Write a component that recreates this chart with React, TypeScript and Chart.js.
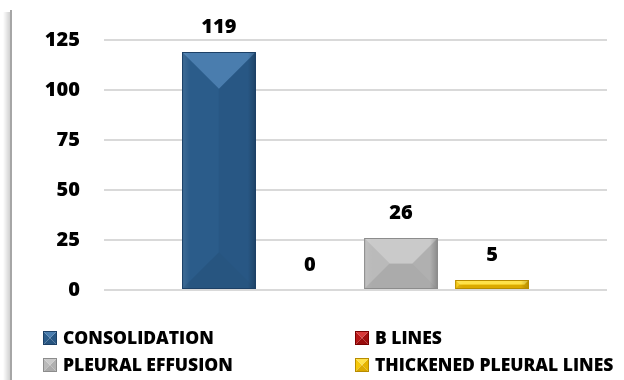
import React, { useEffect, useRef } from "react";
import { Chart, registerables } from "chart.js";

Chart.register(...registerables);

const categories = [""];
const seriesNames = ["CONSOLIDATION", "B LINES", "PLEURAL EFFUSION", "THICKENED PLEURAL LINES"];
const seriesValues = [119, 0, 26, 5];
const yMin = 0;
const yMax = 125;
const yStep = 25;

type Shade = { base: string; top: string; left: string; right: string; bottom: string; border: string };
const palette: Shade[] = [
  { base: "#2a5a88", top: "#4a7dae", left: "#2b5c8a", right: "#285784", bottom: "#275580", border: "#1c4066" },
  { base: "#b41212", top: "#d83a3a", left: "#b81616", right: "#a00e0e", bottom: "#9a0c0c", border: "#7a0000" },
  { base: "#b6b6b6", top: "#cacaca", left: "#bababa", right: "#b0b0b0", bottom: "#ababab", border: "#8c8c8c" },
  { base: "#f2c200", top: "#ffe24a", left: "#f6c90c", right: "#e6b400", bottom: "#dcaa00", border: "#b88c00" },
];

const FONT = "'Open Sans', 'DejaVu Sans', sans-serif";
const WEIGHT = "800";

function poly(ctx: CanvasRenderingContext2D, pts: number[][], fill: string) {
  ctx.beginPath();
  ctx.moveTo(pts[0][0], pts[0][1]);
  for (let k = 1; k < pts.length; k++) ctx.lineTo(pts[k][0], pts[k][1]);
  ctx.closePath();
  ctx.fillStyle = fill;
  ctx.fill();
}

function drawBevel(ctx: CanvasRenderingContext2D, L: number, T: number, R: number, B: number, c: Shade, edge: boolean) {
  const w = R - L;
  const h = B - T;
  if (h < 0.5 || w < 0.5) return;
  const x = (L + R) / 2;
  let top: number[][], bottom: number[][], left: number[][], right: number[][];
  if (h >= w) {
    const d = w / 2;
    top = [[L, T], [R, T], [x, T + d]];
    bottom = [[L, B], [R, B], [x, B - d]];
    left = [[L, T], [x, T + d], [x, B - d], [L, B]];
    right = [[R, T], [x, T + d], [x, B - d], [R, B]];
  } else {
    const d = h / 2;
    const cy = (T + B) / 2;
    top = [[L, T], [R, T], [R - d, cy], [L + d, cy]];
    bottom = [[L, B], [R, B], [R - d, cy], [L + d, cy]];
    left = [[L, T], [L + d, cy], [L, B]];
    right = [[R, T], [R - d, cy], [R, B]];
  }
  ctx.save();
  poly(ctx, left, c.left);
  poly(ctx, right, c.right);
  poly(ctx, bottom, c.bottom);
  poly(ctx, top, c.top);
  if (edge && w > 20) {
    const g = ctx.createLinearGradient(R - 8, 0, R, 0);
    g.addColorStop(0, "rgba(0,0,0,0)");
    g.addColorStop(1, "rgba(0,0,0,0.22)");
    ctx.fillStyle = g;
    ctx.fillRect(R - 8, T, 8, h);
    const g2 = ctx.createLinearGradient(L, 0, L + 8, 0);
    g2.addColorStop(0, "rgba(255,255,255,0.10)");
    g2.addColorStop(1, "rgba(255,255,255,0)");
    ctx.fillStyle = g2;
    ctx.fillRect(L, T, 8, h);
  }
  ctx.strokeStyle = c.border;
  ctx.lineWidth = 1;
  ctx.strokeRect(L + 0.5, T + 0.5, w - 1, h - 1);
  ctx.restore();
}

const framePlugin = {
  id: "frame",
  beforeDraw(chart: any) {
    const ctx = chart.ctx as CanvasRenderingContext2D;
    ctx.save();
    const g = ctx.createLinearGradient(3, 0, 10, 0);
    g.addColorStop(0, "rgba(0,0,0,0)");
    g.addColorStop(1, "rgba(0,0,0,0.18)");
    ctx.fillStyle = g;
    ctx.fillRect(3, 12, 7, chart.height - 12);
    ctx.fillStyle = "#a6a6a6";
    ctx.fillRect(10, 10, 2, chart.height - 10);
    ctx.restore();
  },
};

const bevelPlugin = {
  id: "bevel",
  afterDatasetsDraw(chart: any) {
    const ctx = chart.ctx as CanvasRenderingContext2D;
    chart.data.datasets.forEach((ds: any, i: number) => {
      const meta = chart.getDatasetMeta(i);
      meta.data.forEach((el: any, j: number) => {
        const p = el.getProps(["x", "y", "base", "width"], true);
        const L = p.x - p.width / 2;
        const R = p.x + p.width / 2;
        const T = Math.min(p.y, p.base);
        const B = Math.max(p.y, p.base);
        drawBevel(ctx, L, T, R, B, palette[i], true);
        ctx.save();
        ctx.fillStyle = "#000";
        ctx.font = `${WEIGHT} 20px ${FONT}`;
        ctx.textAlign = "center";
        ctx.textBaseline = "middle";
        ctx.fillText(String(ds.data[j]), p.x, T - 25);
        ctx.restore();
      });
    });
  },
};

const legendPlugin = {
  id: "customLegend",
  afterDraw(chart: any) {
    const ctx = chart.ctx as CanvasRenderingContext2D;
    const colX = [43, 355];
    const rowY = [338, 365];
    ctx.save();
    ctx.font = `${WEIGHT} 17.5px ${FONT}`;
    ctx.textBaseline = "middle";
    ctx.textAlign = "left";
    chart.data.datasets.forEach((ds: any, i: number) => {
      const cx = colX[i % 2];
      const cy = rowY[Math.floor(i / 2)];
      const s = 14;
      drawBevel(ctx, cx, cy - s / 2, cx + s, cy + s / 2, palette[i], false);
      ctx.fillStyle = "#000";
      ctx.fillText(ds.label, cx + 20, cy + 1);
    });
    ctx.restore();
  },
};

export default function App() {
  const ref = useRef<HTMLCanvasElement>(null);
  useEffect(() => {
    if (!ref.current) return;
    const chart = new Chart(ref.current, {
      type: "bar",
      data: {
        labels: categories,
        datasets: seriesNames.map((name, i) => ({
          label: name,
          data: [seriesValues[i]],
          backgroundColor: palette[i].base,
          borderWidth: 0,
          categoryPercentage: 0.724,
          barPercentage: 0.81,
        })),
      },
      options: {
        responsive: false,
        animation: false,
        layout: { padding: { top: 40, bottom: 90, left: 10, right: 17 } },
        plugins: { legend: { display: false }, tooltip: { enabled: false } },
        scales: {
          x: { display: false },
          y: {
            min: yMin,
            max: yMax,
            ticks: {
              stepSize: yStep,
              padding: 24,
              color: "#000",
              font: { family: FONT, size: 20, weight: WEIGHT },
            },
            grid: { color: "#d9d9d9", lineWidth: 2, drawTicks: false },
            border: { display: false },
            afterFit: (s: any) => {
              s.width = 94;
            },
          },
        },
      },
      plugins: [framePlugin, bevelPlugin, legendPlugin],
    });
    return () => chart.destroy();
  }, []);
  return (
    <div style={{ position: "fixed", left: 0, top: 0, width: 624, height: 380, background: "#fff" }}>
      <canvas ref={ref} width={624} height={380} />
    </div>
  );
}
